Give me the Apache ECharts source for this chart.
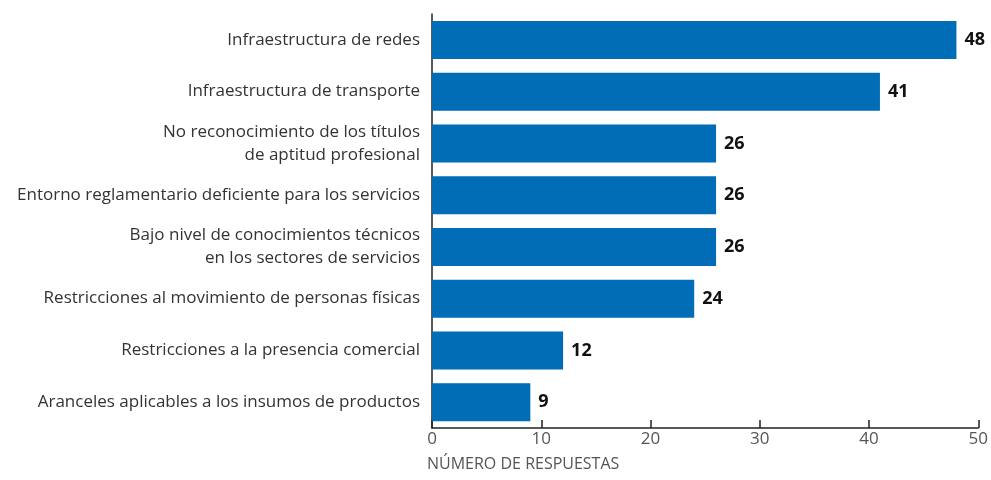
<!DOCTYPE html>
<html>
<head>
<meta charset="utf-8">
<style>
    html, body { margin: 0; padding: 0; background: #fff; }
    #chart { width: 991px; height: 480px; }
</style>
<script src="https://cdn.jsdelivr.net/npm/echarts@6/dist/echarts.min.js"></script>
</head>
<body>
<div id="chart"></div>
<script>
    // categories top to bottom
    var categories = [
        'Infraestructura de redes',
        'Infraestructura de transporte',
        'No reconocimiento de los títulos\nde aptitud profesional',
        'Entorno reglamentario deficiente para los servicios',
        'Bajo nivel de conocimientos técnicos\nen los sectores de servicios',
        'Restricciones al movimiento de personas físicas',
        'Restricciones a la presencia comercial',
        'Aranceles aplicables a los insumos de productos'
    ];
    var respuestas = [48, 41, 26, 26, 26, 24, 12, 9];
    var xTicks = [0, 10, 20, 30, 40, 50];
    var xTitle = 'NÚMERO DE RESPUESTAS';

    var chart = echarts.init(document.getElementById('chart'));
    chart.setOption({
        animation: false,
        textStyle: { fontFamily: 'Open Sans' },
        grid: { left: 432, right: 12, top: 14, bottom: 52 },
        xAxis: {
            type: 'value',
            min: xTicks[0],
            max: xTicks[xTicks.length - 1],
            interval: 10,
            axisLine: { show: true, lineStyle: { color: '#222', width: 1.5 } },
            axisTick: { show: true, inside: true, length: 8, lineStyle: { color: '#222', width: 1.5 } },
            axisLabel: { color: '#555', fontSize: 17, margin: 3 },
            splitLine: { show: false }
        },
        yAxis: {
            type: 'category',
            inverse: true,
            data: categories,
            axisLine: { show: true, lineStyle: { color: '#222', width: 1.5 } },
            axisTick: { show: false },
            axisLabel: { color: '#333', fontSize: 17, lineHeight: 23, margin: 12, align: 'right' }
        },
        series: [{
            type: 'bar',
            data: respuestas,
            barWidth: 38,
            itemStyle: { color: '#006db6' },
            label: {
                show: true,
                position: 'right',
                distance: 8,
                color: '#111',
                fontWeight: 'bold',
                fontSize: 18
            }
        }],
        graphic: [{
            type: 'text',
            left: 427,
            top: 456,
            style: { text: xTitle, fill: '#555', fontSize: 16, fontFamily: 'Open Sans' }
        }]
    });
</script>
</body>
</html>
